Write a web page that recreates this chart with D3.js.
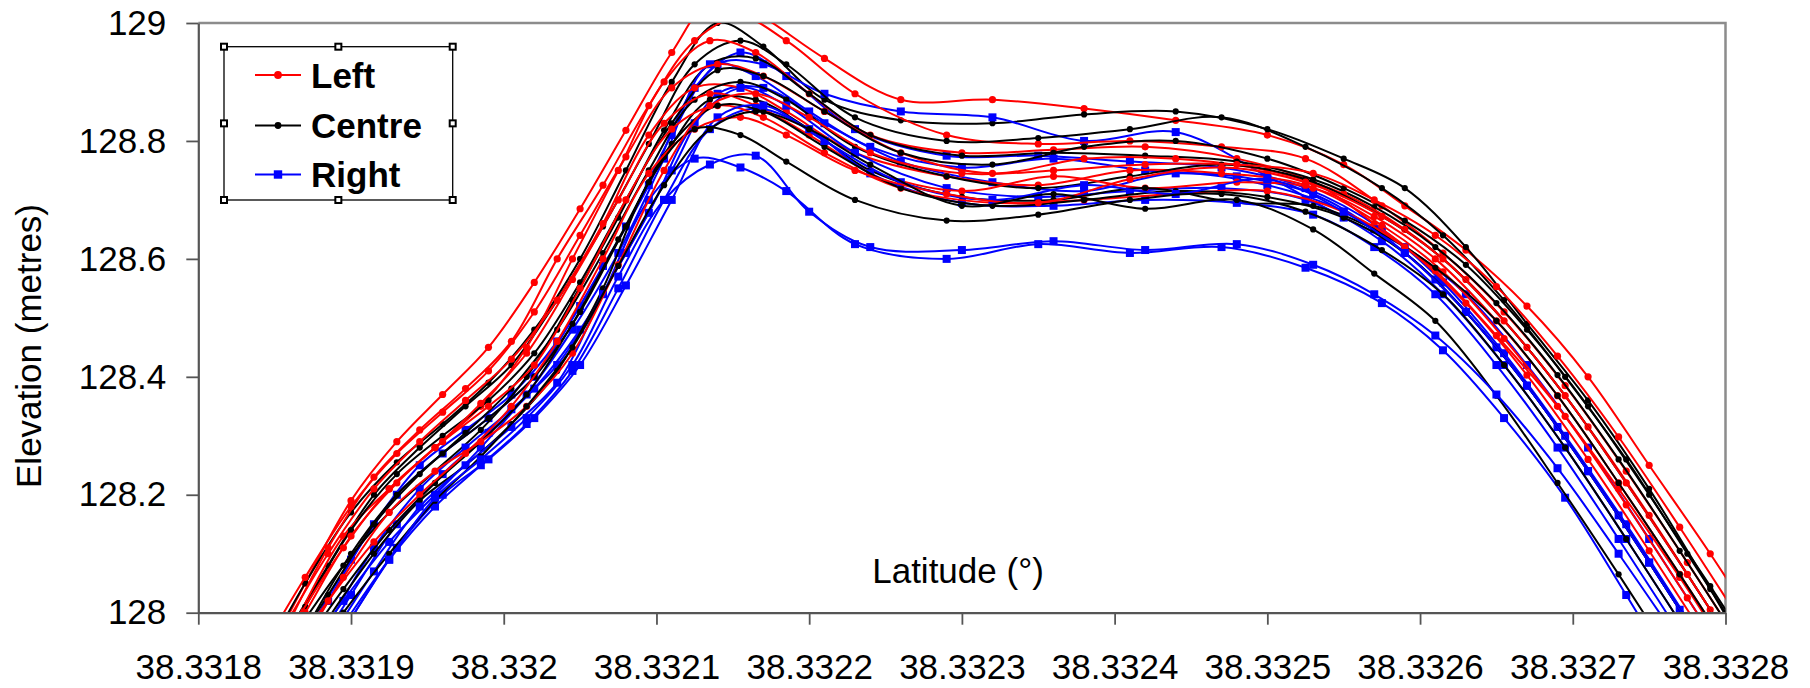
<!DOCTYPE html>
<html>
<head>
<meta charset="utf-8">
<script src="https://cdn.jsdelivr.net/npm/d3@7"></script>
<style>
  body { margin: 0; background: #fff; }
  svg { display: block; font-family: 'Liberation Sans', Arial, sans-serif; }
</style>
</head>
<body>
<svg id="chart" width="1810" height="688"></svg>
<script>
// latitude of the logged points (three sampling patterns)
const latA = [38.33184, 38.33187, 38.3319, 38.33193, 38.33196, 38.33199, 38.33202, 38.33205, 38.33208, 38.33211, 38.33214, 38.33217, 38.33221, 38.33226, 38.33232, 38.33238, 38.33244, 38.3325, 38.33255, 38.33259, 38.33263, 38.33267, 38.33271, 38.33275, 38.33279, 38.33283];
const latB = [38.331855, 38.331885, 38.331915, 38.331945, 38.331975, 38.332005, 38.332035, 38.332065, 38.332095, 38.332125, 38.332155, 38.332185, 38.33223, 38.33229, 38.33235, 38.33241, 38.33247, 38.332525, 38.332575, 38.332615, 38.332655, 38.332695, 38.332735, 38.332775, 38.332815];
const latC = [38.331865, 38.331895, 38.331925, 38.331955, 38.331985, 38.332015, 38.332045, 38.332075, 38.332105, 38.332135, 38.332165, 38.3322, 38.33224, 38.3323, 38.33236, 38.33242, 38.33248, 38.33253, 38.33257, 38.33261, 38.33265, 38.33269, 38.33273, 38.33277, 38.33281];

// elevation (metres), Left antenna passes
const left1 = [127.90, 128.05, 128.19, 128.29, 128.37, 128.45, 128.56, 128.685, 128.818, 128.95, 129.05, 129.01, 128.94, 128.87, 128.87, 128.855, 128.835, 128.81, 128.76, 128.69, 128.615, 128.52, 128.40, 128.25, 128.10, 127.94];
const left2 = [127.96, 128.11, 128.23, 128.31, 128.38, 128.46, 128.60, 128.725, 128.86, 128.97, 129.01, 128.97, 128.88, 128.81, 128.795, 128.80, 128.79, 128.77, 128.69, 128.61, 128.51, 128.385, 128.24, 128.085, 127.925];
const left3 = [127.99, 128.13, 128.21, 128.28, 128.35, 128.45, 128.60, 128.75, 128.90, 128.97, 128.95, 128.88, 128.81, 128.78, 128.785, 128.79, 128.77, 128.73, 128.66, 128.58, 128.47, 128.35, 128.21, 128.06, 127.90];
const left4 = [127.93, 128.06, 128.18, 128.27, 128.34, 128.41, 128.51, 128.64, 128.773, 128.89, 128.93, 128.91, 128.85, 128.78, 128.745, 128.77, 128.77, 128.75, 128.71, 128.65, 128.565, 128.45, 128.315, 128.165, 128.005, 127.845];
const left5 = [127.97, 128.10, 128.21, 128.29, 128.36, 128.43, 128.53, 128.66, 128.81, 128.89, 128.89, 128.85, 128.78, 128.74, 128.725, 128.75, 128.745, 128.725, 128.657, 128.578, 128.465, 128.333, 128.183, 128.025, 127.865];
const left6 = [127.99, 128.11, 128.21, 128.28, 128.355, 128.44, 128.565, 128.70, 128.83, 128.88, 128.86, 128.81, 128.75, 128.715, 128.74, 128.72, 128.73, 128.72, 128.672, 128.60, 128.495, 128.368, 128.22, 128.065, 127.905];
const left7 = [127.87, 128.00, 128.13, 128.22, 128.29, 128.35, 128.42, 128.55, 128.70, 128.82, 128.86, 128.84, 128.78, 128.72, 128.695, 128.70, 128.71, 128.715, 128.68, 128.62, 128.525, 128.403, 128.26, 128.105, 127.945, 127.785];
const left8 = [127.91, 128.02, 128.12, 128.20, 128.27, 128.35, 128.46, 128.60, 128.745, 128.82, 128.84, 128.81, 128.75, 128.71, 128.695, 128.735, 128.755, 128.73, 128.672, 128.60, 128.495, 128.368, 128.22, 128.065, 127.905];
const left9 = [127.93, 128.06, 128.17, 128.24, 128.29, 128.35, 128.44, 128.59, 128.75, 128.86, 128.88, 128.84, 128.78, 128.745, 128.75, 128.76, 128.76, 128.745, 128.70, 128.64, 128.553, 128.435, 128.298, 128.145, 127.985];

// Centre antenna passes
const centre1 = [127.91, 128.05, 128.17, 128.255, 128.32, 128.39, 128.48, 128.60, 128.75, 128.90, 129.00, 128.96, 128.87, 128.835, 128.83, 128.845, 128.85, 128.82, 128.77, 128.72, 128.62, 128.49, 128.36, 128.21, 128.04, 127.86];
const centre2 = [127.95, 128.08, 128.20, 128.28, 128.35, 128.42, 128.53, 128.655, 128.795, 128.93, 128.97, 128.93, 128.84, 128.80, 128.805, 128.82, 128.84, 128.79, 128.72, 128.64, 128.53, 128.40, 128.26, 128.10, 127.94];
const centre3 = [127.97, 128.08, 128.17, 128.24, 128.31, 128.40, 128.53, 128.67, 128.818, 128.93, 128.94, 128.88, 128.81, 128.775, 128.78, 128.775, 128.765, 128.735, 128.688, 128.62, 128.525, 128.403, 128.26, 128.105, 127.945];
const centre4 = [127.87, 128.01, 128.14, 128.235, 128.30, 128.36, 128.44, 128.56, 128.70, 128.83, 128.92, 128.91, 128.85, 128.78, 128.76, 128.79, 128.80, 128.77, 128.72, 128.665, 128.59, 128.48, 128.35, 128.20, 128.045, 127.885];
const centre5 = [127.91, 128.03, 128.15, 128.235, 128.305, 128.38, 128.48, 128.61, 128.75, 128.87, 128.90, 128.87, 128.79, 128.74, 128.72, 128.74, 128.76, 128.735, 128.672, 128.60, 128.495, 128.368, 128.22, 128.065, 127.905];
const centre6 = [127.93, 128.04, 128.14, 128.22, 128.29, 128.37, 128.49, 128.633, 128.773, 128.87, 128.87, 128.82, 128.75, 128.705, 128.70, 128.72, 128.695, 128.69, 128.65, 128.585, 128.495, 128.368, 128.22, 128.065, 127.905];
const centre7 = [127.83, 127.97, 128.10, 128.20, 128.27, 128.33, 128.40, 128.51, 128.655, 128.795, 128.86, 128.85, 128.79, 128.72, 128.69, 128.70, 128.715, 128.705, 128.67, 128.61, 128.51, 128.385, 128.24, 128.085, 127.925, 127.765];
const centre8 = [127.87, 127.99, 128.10, 128.19, 128.25, 128.32, 128.41, 128.55, 128.73, 128.82, 128.81, 128.765, 128.70, 128.665, 128.675, 128.70, 128.71, 128.68, 128.615, 128.54, 128.42, 128.28, 128.125, 127.965, 127.805];
const centre9 = [127.89, 128.00, 128.10, 128.19, 128.265, 128.35, 128.45, 128.588, 128.725, 128.82, 128.85, 128.82, 128.76, 128.69, 128.71, 128.685, 128.70, 128.65, 128.575, 128.495, 128.368, 128.22, 128.065, 127.905, 127.75];

// Right antenna passes
const right1 = [127.83, 127.96, 128.09, 128.20, 128.27, 128.33, 128.40, 128.52, 128.655, 128.81, 128.93, 128.93, 128.88, 128.85, 128.84, 128.80, 128.815, 128.74, 128.67, 128.62, 128.54, 128.42, 128.28, 128.125, 127.965, 127.805];
const right2 = [127.89, 128.02, 128.15, 128.25, 128.31, 128.37, 128.46, 128.588, 128.725, 128.89, 128.95, 128.91, 128.82, 128.775, 128.775, 128.765, 128.755, 128.72, 128.65, 128.56, 128.44, 128.30, 128.15, 127.99, 127.83];
const right3 = [127.91, 128.02, 128.12, 128.20, 128.28, 128.37, 128.48, 128.61, 128.77, 128.93, 128.91, 128.85, 128.79, 128.755, 128.77, 128.75, 128.74, 128.71, 128.65, 128.565, 128.45, 128.315, 128.165, 128.005, 127.845];
const right4 = [127.79, 127.91, 128.03, 128.15, 128.235, 128.305, 128.38, 128.48, 128.61, 128.75, 128.88, 128.89, 128.83, 128.765, 128.73, 128.715, 128.745, 128.725, 128.68, 128.61, 128.51, 128.385, 128.24, 128.085, 127.925, 127.765];
const right5 = [127.85, 127.98, 128.11, 128.21, 128.28, 128.345, 128.42, 128.543, 128.678, 128.83, 128.89, 128.86, 128.78, 128.72, 128.705, 128.715, 128.72, 128.70, 128.63, 128.54, 128.42, 128.28, 128.125, 127.965, 127.805];
const right6 = [127.87, 127.98, 128.09, 128.18, 128.25, 128.32, 128.41, 128.55, 128.70, 128.82, 128.855, 128.82, 128.745, 128.695, 128.69, 128.70, 128.695, 128.675, 128.62, 128.54, 128.42, 128.28, 128.125, 127.965, 127.805];
const right7 = [127.75, 127.87, 127.99, 128.11, 128.20, 128.26, 128.33, 128.42, 128.555, 128.70, 128.84, 128.86, 128.80, 128.73, 128.70, 128.725, 128.71, 128.735, 128.68, 128.61, 128.51, 128.385, 128.24, 128.085, 127.925, 127.765];
const right8 = [127.83, 127.95, 128.07, 128.18, 128.25, 128.315, 128.39, 128.54, 128.70, 128.77, 128.755, 128.715, 128.625, 128.60, 128.625, 128.61, 128.62, 128.585, 128.525, 128.445, 128.33, 128.195, 128.03, 127.86, 127.69];
const right9 = [127.85, 127.97, 128.09, 128.195, 128.26, 128.33, 128.42, 128.57, 128.70, 128.76, 128.775, 128.68, 128.62, 128.615, 128.63, 128.615, 128.625, 128.59, 128.54, 128.47, 128.37, 128.245, 128.10, 127.95, 127.80];

const xTicks = [38.3318, 38.3319, 38.332, 38.3321, 38.3322, 38.3323, 38.3324, 38.3325, 38.3326, 38.3327, 38.3328];
const xTickLabels = ['38.3318', '38.3319', '38.332', '38.3321', '38.3322', '38.3323', '38.3324', '38.3325', '38.3326', '38.3327', '38.3328'];
const yTicks = [128, 128.2, 128.4, 128.6, 128.8, 129];
const yTickLabels = ['128', '128.2', '128.4', '128.6', '128.8', '129'];

const groups = [
  { name: 'Left', color: '#ff0000', marker: 'circle', r: 3.6, lat: [latA, latB, latC, latA, latB, latC, latA, latB, latC],
    elev: [left1, left2, left3, left4, left5, left6, left7, left8, left9] },
  { name: 'Centre', color: '#000000', marker: 'circle', r: 3.1, lat: [latA, latB, latC, latA, latB, latC, latA, latB, latC],
    elev: [centre1, centre2, centre3, centre4, centre5, centre6, centre7, centre8, centre9] },
  { name: 'Right', color: '#0000ff', marker: 'square', r: 4, lat: [latA, latB, latC, latA, latB, latC, latA, latB, latC],
    elev: [right1, right2, right3, right4, right5, right6, right7, right8, right9] },
];

const width = 1810;
const height = 688;
const margin = { top: 23, right: 84.5, bottom: 75.3, left: 198.3 };

const chart = d3.select('#chart');

const xScale = d3.scaleLinear()
  .domain([38.3318, 38.3328])
  .range([margin.left, width - margin.right]);

const yScale = d3.scaleLinear()
  .domain([128, 129])
  .range([height - margin.bottom, margin.top]);

chart.append('rect').attr('width', width).attr('height', height).attr('fill', '#fff');

chart.append('defs').append('clipPath').attr('id', 'plot-clip')
  .append('rect')
  .attr('x', margin.left)
  .attr('y', margin.top)
  .attr('width', width - margin.left - margin.right)
  .attr('height', height - margin.top - margin.bottom);

// plot area border (top + right)
chart.append('path')
  .attr('d', `M${margin.left},${margin.top}H${width - margin.right}V${height - margin.bottom}`)
  .attr('fill', 'none')
  .attr('stroke', '#8c8c8c')
  .attr('stroke-width', 2.5);

const line = d3.line()
  .curve(d3.curveCatmullRom.alpha(0.5))
  .x((d) => xScale(d[0]))
  .y((d) => yScale(d[1]));

// interleave passes so colours overlap like the original
const series = [];
for (let i = 0; i < 9; i++) {
  groups.forEach((g) => {
    series.push({ g, points: g.lat[i].map((lat, j) => [lat, g.elev[i][j]]) });
  });
}

const plot = chart.append('g').attr('clip-path', 'url(#plot-clip)');

series.forEach((s) => {
  const sg = plot.append('g');
  sg.append('path')
    .datum(s.points)
    .attr('d', line)
    .attr('fill', 'none')
    .attr('stroke', s.g.color)
    .attr('stroke-width', 2);

  if (s.g.marker === 'circle') {
    sg.selectAll('circle')
      .data(s.points)
      .enter()
      .append('circle')
      .attr('cx', (d) => xScale(d[0]))
      .attr('cy', (d) => yScale(d[1]))
      .attr('r', s.g.r)
      .attr('fill', s.g.color);
  } else {
    sg.selectAll('rect')
      .data(s.points)
      .enter()
      .append('rect')
      .attr('x', (d) => xScale(d[0]) - s.g.r)
      .attr('y', (d) => yScale(d[1]) - s.g.r)
      .attr('width', s.g.r * 2)
      .attr('height', s.g.r * 2)
      .attr('fill', s.g.color);
  }
});

const xAxis = (g) => g
  .attr('transform', `translate(0,${height - margin.bottom})`)
  .call(d3.axisBottom(xScale).tickValues(xTicks).tickFormat((d, i) => xTickLabels[i]).tickSize(12).tickSizeOuter(0).tickPadding(29.5));

const yAxis = (g) => g
  .attr('transform', `translate(${margin.left},0)`)
  .call(d3.axisLeft(yScale).tickValues(yTicks).tickFormat((d, i) => yTickLabels[i]).tickSize(12).tickSizeOuter(0).tickPadding(20));

chart.append('g').attr('class', 'x-axis axis').call(xAxis);
chart.append('g').attr('class', 'y-axis axis').call(yAxis);

chart.selectAll('.axis .domain').attr('stroke', '#555').attr('stroke-width', 2.2);
chart.selectAll('.axis .tick line').attr('stroke', '#555').attr('stroke-width', 1.8);
chart.selectAll('.axis text')
  .attr('font-family', "'Liberation Sans', Arial, sans-serif")
  .attr('font-size', 35)
  .attr('fill', '#000');

// axis titles
chart.append('text')
  .attr('x', 958)
  .attr('y', 583)
  .attr('text-anchor', 'middle')
  .attr('font-size', 35)
  .text('Latitude (°)');

chart.append('text')
  .attr('transform', 'translate(41,346) rotate(-90)')
  .attr('text-anchor', 'middle')
  .attr('font-size', 35)
  .text('Elevation (metres)');

// legend
const legend = { x: 224, y: 46.7, w: 228.7, h: 153.3 };
const lg = chart.append('g');
lg.append('rect')
  .attr('x', legend.x)
  .attr('y', legend.y)
  .attr('width', legend.w)
  .attr('height', legend.h)
  .attr('fill', '#fff')
  .attr('stroke', '#000')
  .attr('stroke-width', 1.3);

const handles = [];
[0, 0.5, 1].forEach((fx) => {
  [0, 0.5, 1].forEach((fy) => {
    if (fx === 0.5 && fy === 0.5) return;
    handles.push([legend.x + legend.w * fx, legend.y + legend.h * fy]);
  });
});
lg.selectAll('.handle')
  .data(handles)
  .enter()
  .append('rect')
  .attr('class', 'handle')
  .attr('x', (d) => d[0] - 3)
  .attr('y', (d) => d[1] - 3)
  .attr('width', 6)
  .attr('height', 6)
  .attr('fill', '#fff')
  .attr('stroke', '#000')
  .attr('stroke-width', 2);

const rowY = [75, 125.5, 174.5];
groups.forEach((g, i) => {
  const y = rowY[i];
  lg.append('line')
    .attr('x1', 255)
    .attr('x2', 301)
    .attr('y1', y)
    .attr('y2', y)
    .attr('stroke', g.color)
    .attr('stroke-width', 2);
  if (g.marker === 'circle') {
    lg.append('circle').attr('cx', 278).attr('cy', y).attr('r', g.r + 0.3).attr('fill', g.color);
  } else {
    lg.append('rect').attr('x', 278 - 4.2).attr('y', y - 4.2).attr('width', 8.4).attr('height', 8.4).attr('fill', g.color);
  }
  lg.append('text')
    .attr('x', 311)
    .attr('y', y + 12.5)
    .attr('font-size', 35)
    .attr('font-weight', 'bold')
    .text(g.name);
});
</script>
</body>
</html>
